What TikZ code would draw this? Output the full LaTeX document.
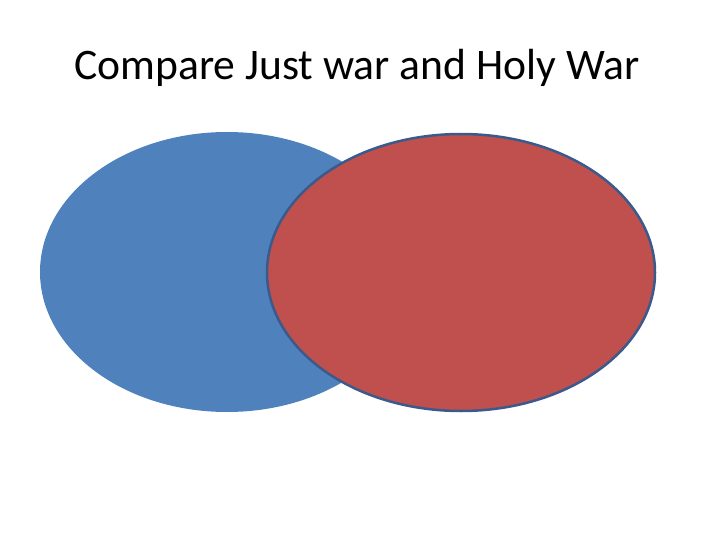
\documentclass[tikz,border=0pt]{standalone}
\usepackage{fontspec}
\setmainfont{Carlito}
\definecolor{vblue}{HTML}{4F81BD}
\definecolor{vred}{HTML}{C0504D}
\definecolor{vborder}{HTML}{3A5A8C}
\begin{document}
\begin{tikzpicture}[x=1pt,y=-1pt]
\useasboundingbox (0,0) rectangle (720,540);
\tikzset{titletext/.style={font=\fontsize{43.6}{52}\selectfont, anchor=base}}
\node[titletext] (title) at (357,80) {Compare Just war and Holy War};
\fill[vblue] (227,272) ellipse [x radius=187, y radius=140];
\filldraw[fill=vred, draw=vborder, line width=2.5pt] (461,272.5) ellipse [x radius=194, y radius=138.5];
\end{tikzpicture}
\end{document}
